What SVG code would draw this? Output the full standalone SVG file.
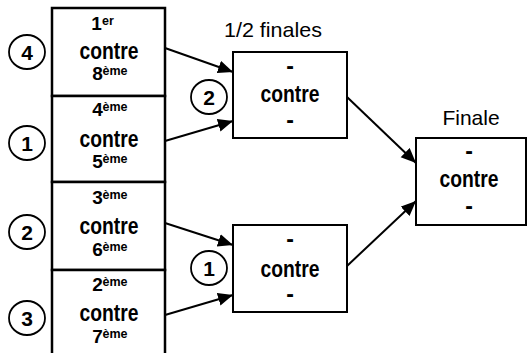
<svg xmlns="http://www.w3.org/2000/svg" width="528" height="353" viewBox="0 0 528 353">
<style>
text{font-family:"Liberation Sans",Arial,sans-serif;fill:#000;text-anchor:middle}
.b{font-weight:bold;font-size:23px}
.d{font-weight:bold;font-size:19px}
.cd{font-weight:bold;font-size:21px}
.s{font-size:12.5px;font-weight:bold;text-anchor:start}
.lbl{font-size:21px}
.lb{fill:#fff;stroke:#000;stroke-width:2.5}
.nb{fill:#fff;stroke:#000;stroke-width:2}
.c{fill:#fff;stroke:#000;stroke-width:1.8}
.e{stroke:#000;stroke-width:2;fill:none;marker-end:url(#ah)}
</style>
<defs>
<marker id="ah" markerUnits="userSpaceOnUse" markerWidth="16" markerHeight="14" refX="15" refY="6.5" orient="auto">
<path d="M0,0 L15,6.5 L0,13 Z" fill="#000"/>
</marker>
</defs>
<g id="connectors">
<line class="e" x1="165" y1="48" x2="233" y2="72"/>
<line class="e" x1="165" y1="141" x2="233" y2="121"/>
<line class="e" x1="165" y1="223" x2="233" y2="245"/>
<line class="e" x1="165" y1="315" x2="233" y2="295"/>
<line class="e" x1="347" y1="97" x2="416" y2="163"/>
<line class="e" x1="347" y1="266" x2="416" y2="201"/>
</g>
<g id="m1">
<rect class="lb" x="52" y="8" width="113" height="88"/>
<text class="d" x="96.5" y="30">1</text><text class="s" x="102" y="25">er</text>
<text class="b" x="109" y="59" textLength="59" lengthAdjust="spacingAndGlyphs">contre</text>
<text class="d" x="97.5" y="80">8</text><text class="s" x="102.5" y="75">ème</text>
</g>
<g id="m2">
<rect class="lb" x="52" y="96" width="113" height="86"/>
<text class="d" x="97.5" y="116">4</text><text class="s" x="102.5" y="111">ème</text>
<text class="b" x="109" y="147" textLength="59" lengthAdjust="spacingAndGlyphs">contre</text>
<text class="d" x="97.5" y="168">5</text><text class="s" x="102.5" y="163">ème</text>
</g>
<g id="m3">
<rect class="lb" x="52" y="182" width="113" height="88"/>
<text class="d" x="97.5" y="204">3</text><text class="s" x="102.5" y="199">ème</text>
<text class="b" x="109" y="234" textLength="59" lengthAdjust="spacingAndGlyphs">contre</text>
<text class="d" x="97.5" y="256">6</text><text class="s" x="102.5" y="251">ème</text>
</g>
<g id="m4">
<rect class="lb" x="52" y="270" width="113" height="90"/>
<text class="d" x="97.5" y="291">2</text><text class="s" x="102.5" y="286">ème</text>
<text class="b" x="109" y="321" textLength="59" lengthAdjust="spacingAndGlyphs">contre</text>
<text class="d" x="97.5" y="343">7</text><text class="s" x="102.5" y="338">ème</text>
</g>
<g id="c4"><ellipse class="c" cx="27" cy="52" rx="18" ry="17"/><text class="cd" x="27" y="59.5">4</text></g>
<g id="c1"><ellipse class="c" cx="27" cy="143" rx="18" ry="17"/><text class="cd" x="27" y="150.5">1</text></g>
<g id="c2"><ellipse class="c" cx="27" cy="232" rx="18" ry="17"/><text class="cd" x="27" y="239.5">2</text></g>
<g id="c3"><ellipse class="c" cx="27" cy="318" rx="18" ry="17"/><text class="cd" x="27" y="325.5">3</text></g>
<g id="lab-semi"><text class="lbl" x="273" y="37" textLength="98" lengthAdjust="spacingAndGlyphs">1/2 finales</text></g>
<g id="s1">
<rect class="nb" x="233" y="52" width="114" height="86"/>
<text class="b" x="290" y="74">-</text>
<text class="b" x="290" y="102" textLength="59" lengthAdjust="spacingAndGlyphs">contre</text>
<text class="b" x="290" y="128">-</text>
</g>
<g id="s2">
<rect class="nb" x="233" y="225" width="114" height="87"/>
<text class="b" x="290" y="247">-</text>
<text class="b" x="290" y="277" textLength="59" lengthAdjust="spacingAndGlyphs">contre</text>
<text class="b" x="290" y="302">-</text>
</g>
<g id="cs2"><ellipse class="c" cx="209" cy="97" rx="18" ry="17"/><text class="cd" x="209" y="104.5">2</text></g>
<g id="cs1"><ellipse class="c" cx="209" cy="268" rx="18" ry="17"/><text class="cd" x="209" y="275.5">1</text></g>
<g id="lab-final"><text class="lbl" x="471" y="125">Finale</text></g>
<g id="f">
<rect class="nb" x="416" y="138" width="110" height="87"/>
<text class="b" x="469" y="159">-</text>
<text class="b" x="469" y="187" textLength="59" lengthAdjust="spacingAndGlyphs">contre</text>
<text class="b" x="469" y="214">-</text>
</g>
</svg>
